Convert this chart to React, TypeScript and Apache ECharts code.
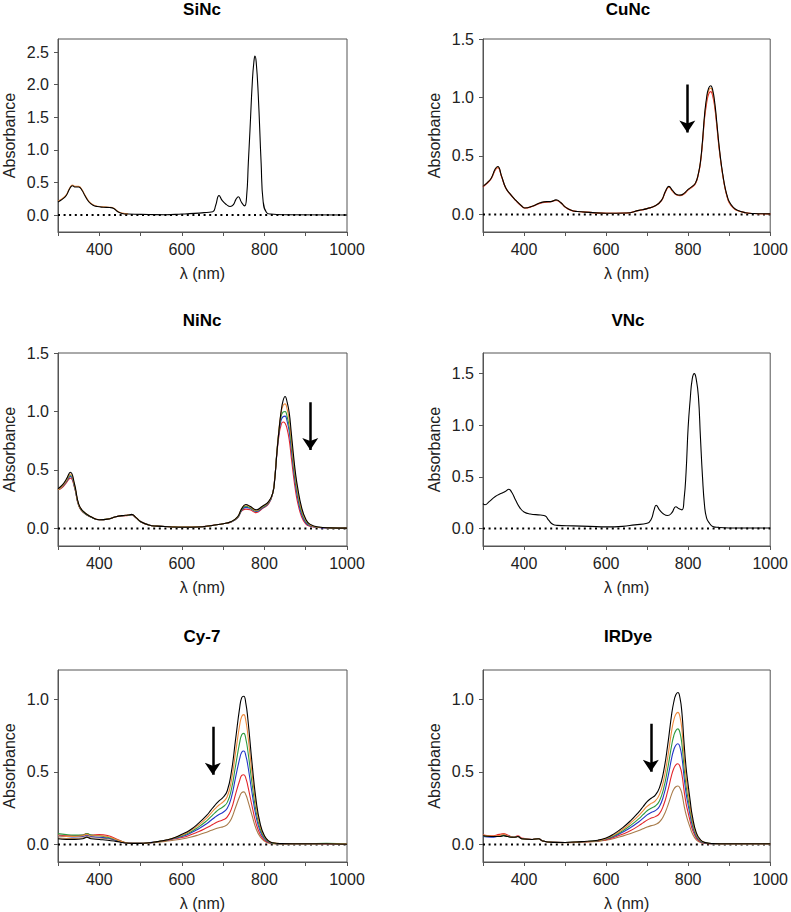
import React, { useEffect, useRef } from "react";
import * as echarts from "echarts";

const FONT = 'Arial, "Liberation Sans", Helvetica, sans-serif';

// ---------- X axis ----------
const xMin = 300;
const xMax = 1000;
const xStep = 100;

// ---------- SiNc ----------
const wlSi = [300,310,320,328,335,342,350,358,365,375,385,395,410,425,435,445,455,470,520,560,600,630,660,675,682,690,698,708,717,725,731,737,744,752,757,761,765,771,775,777,780,785,792,797,805,815,850,1000];
const siBlack = [0.2,0.24,0.3,0.4,0.45,0.43,0.43,0.38,0.3,0.2,0.15,0.13,0.12,0.115,0.1,0.05,0.025,0.015,0.008,0.005,0.015,0.025,0.04,0.05,0.15,0.3,0.22,0.16,0.13,0.16,0.24,0.28,0.2,0.14,0.3,0.8,1.3,2.08,2.38,2.44,2.35,1.85,0.8,0.2,0.04,0.015,0.005,0];
const wlSiUv = [300,310,320,328,335,342,350,358,365,375,385,395,410,425,435,445,455,470];
const siOrange = [0.21,0.25,0.31,0.41,0.46,0.44,0.44,0.39,0.31,0.21,0.16,0.135,0.125,0.12,0.105,0.055,0.03,0.018];
const siTicks = [0, 0.5, 1.0, 1.5, 2.0, 2.5];

// ---------- CuNc ----------
const wlCu = [300,310,320,330,336,345,355,365,380,395,402,420,440,455,465,478,490,500,515,530,560,600,650,680,700,720,735,745,753,762,772,780,790,800,810,818,825,830,835,840,845,850,855,860,865,870,875,880,885,890,895,900,910,920,940,960,1000];
const cuBlack = [0.24,0.27,0.31,0.39,0.41,0.33,0.23,0.18,0.12,0.07,0.055,0.07,0.1,0.11,0.11,0.125,0.1,0.065,0.035,0.025,0.018,0.01,0.012,0.035,0.05,0.075,0.12,0.2,0.24,0.205,0.17,0.165,0.18,0.215,0.24,0.27,0.35,0.45,0.63,0.85,1.0,1.08,1.1,1.06,0.95,0.78,0.6,0.45,0.33,0.23,0.16,0.11,0.06,0.035,0.015,0.008,0.005];
const cuOrange = [0.24,0.27,0.31,0.385,0.405,0.33,0.23,0.18,0.12,0.07,0.055,0.07,0.1,0.108,0.11,0.122,0.1,0.065,0.035,0.025,0.018,0.01,0.012,0.035,0.05,0.075,0.12,0.2,0.235,0.2,0.168,0.163,0.178,0.212,0.238,0.268,0.35,0.45,0.62,0.84,0.98,1.06,1.08,1.04,0.93,0.77,0.59,0.44,0.32,0.225,0.155,0.105,0.058,0.034,0.015,0.008,0.005];
const cuRed = [0.235,0.265,0.305,0.38,0.4,0.325,0.228,0.178,0.118,0.068,0.055,0.068,0.097,0.105,0.108,0.12,0.098,0.064,0.035,0.025,0.018,0.01,0.012,0.034,0.05,0.074,0.118,0.195,0.232,0.198,0.166,0.16,0.175,0.21,0.235,0.265,0.345,0.44,0.61,0.82,0.95,1.03,1.05,1.01,0.91,0.75,0.58,0.44,0.32,0.22,0.15,0.1,0.055,0.033,0.015,0.008,0.005];
const cuTicks = [0, 0.5, 1.0, 1.5];

// ---------- NiNc ----------
const wlNi = [300,310,320,330,340,350,360,380,400,420,440,455,470,478,490,500,520,540,570,600,650,680,700,720,735,745,755,765,780,795,810,820,825,830,835,840,845,850,855,860,865,870,875,880,890,900,910,930,960,1000];
const niBlack = [0.34,0.37,0.42,0.48,0.38,0.21,0.15,0.1,0.075,0.08,0.1,0.11,0.115,0.12,0.09,0.06,0.03,0.02,0.015,0.01,0.015,0.03,0.04,0.06,0.1,0.17,0.205,0.19,0.16,0.19,0.23,0.3,0.42,0.64,0.83,0.99,1.09,1.128,1.08,0.99,0.82,0.64,0.48,0.36,0.18,0.08,0.037,0.012,0.005,0.003];
const niOrange = [0.33,0.36,0.41,0.465,0.37,0.205,0.15,0.1,0.075,0.08,0.1,0.11,0.115,0.118,0.09,0.06,0.03,0.02,0.015,0.012,0.015,0.03,0.04,0.06,0.1,0.17,0.2,0.185,0.155,0.185,0.225,0.3,0.43,0.65,0.84,0.98,1.05,1.065,1.02,0.93,0.77,0.59,0.45,0.33,0.16,0.07,0.032,0.01,0.005,0.003];
const niGreen = [0.33,0.36,0.405,0.455,0.36,0.2,0.145,0.098,0.074,0.08,0.1,0.108,0.113,0.117,0.088,0.058,0.03,0.02,0.015,0.012,0.015,0.03,0.04,0.058,0.095,0.16,0.19,0.178,0.15,0.18,0.22,0.3,0.43,0.65,0.83,0.95,0.995,1.0,0.955,0.87,0.72,0.55,0.41,0.3,0.14,0.06,0.028,0.01,0.005,0.003];
const niBlue = [0.33,0.355,0.4,0.445,0.355,0.2,0.145,0.098,0.074,0.079,0.1,0.108,0.112,0.116,0.088,0.058,0.03,0.02,0.015,0.012,0.015,0.03,0.04,0.057,0.092,0.155,0.18,0.172,0.145,0.175,0.215,0.3,0.43,0.64,0.81,0.92,0.955,0.96,0.915,0.83,0.68,0.52,0.38,0.27,0.12,0.05,0.024,0.009,0.004,0.003];
const niRed = [0.33,0.35,0.39,0.43,0.35,0.195,0.14,0.097,0.074,0.079,0.1,0.107,0.112,0.115,0.087,0.058,0.03,0.02,0.016,0.013,0.016,0.03,0.04,0.056,0.09,0.15,0.165,0.16,0.135,0.17,0.21,0.3,0.43,0.63,0.79,0.88,0.91,0.9,0.85,0.76,0.61,0.46,0.33,0.23,0.1,0.04,0.02,0.008,0.004,0.003];
const niTicks = [0, 0.5, 1.0, 1.5];

// ---------- VNc ----------
const wlV = [300,305,315,330,345,355,363,370,380,390,400,415,440,452,460,470,480,520,560,600,640,670,700,710,717,722,730,740,750,760,770,778,785,790,795,800,805,810,815,820,825,830,835,840,845,852,860,875,900,1000];
const vBlack = [0.24,0.23,0.26,0.31,0.34,0.36,0.38,0.35,0.27,0.2,0.16,0.14,0.13,0.12,0.08,0.04,0.03,0.025,0.02,0.015,0.02,0.035,0.05,0.09,0.18,0.225,0.18,0.14,0.125,0.15,0.21,0.19,0.18,0.28,0.55,0.98,1.25,1.45,1.5,1.44,1.28,0.88,0.5,0.22,0.1,0.05,0.02,0.01,0.005,0.004];
const vTicks = [0, 0.5, 1.0, 1.5];

// ---------- Cy-7 ----------
const wlCy = [300,320,340,360,370,380,400,420,440,460,480,500,520,540,560,580,600,620,640,660,670,680,690,700,710,720,730,740,745,750,755,760,770,780,790,800,810,820,840,870,900,950,1000];
const cyBlack = [0.04,0.035,0.035,0.04,0.05,0.04,0.035,0.03,0.022,0.012,0.008,0.008,0.012,0.02,0.03,0.045,0.07,0.1,0.145,0.2,0.235,0.27,0.3,0.325,0.37,0.5,0.72,0.94,1.01,1.02,0.97,0.86,0.56,0.3,0.14,0.06,0.025,0.012,0.006,0.005,0.005,0.005,0.002];
const cyOrange = [0.06,0.055,0.055,0.06,0.07,0.06,0.06,0.055,0.035,0.015,0.008,0.008,0.012,0.02,0.03,0.045,0.065,0.093,0.133,0.182,0.213,0.245,0.272,0.293,0.33,0.44,0.63,0.82,0.88,0.893,0.85,0.75,0.49,0.265,0.125,0.055,0.024,0.012,0.006,0.005,0.005,0.005,0.003];
const cyGreen = [0.075,0.068,0.065,0.065,0.075,0.065,0.06,0.05,0.035,0.015,0.008,0.008,0.012,0.02,0.03,0.043,0.06,0.085,0.12,0.163,0.19,0.218,0.242,0.26,0.29,0.38,0.54,0.7,0.755,0.764,0.725,0.64,0.42,0.225,0.107,0.047,0.02,0.01,0.005,0.005,0.005,0.008,0.004];
const cyBlue = [0.06,0.055,0.052,0.055,0.065,0.055,0.05,0.045,0.03,0.013,0.008,0.008,0.012,0.02,0.029,0.041,0.055,0.077,0.107,0.143,0.165,0.188,0.207,0.222,0.25,0.325,0.46,0.59,0.635,0.643,0.61,0.54,0.355,0.19,0.09,0.04,0.018,0.009,0.005,0.005,0.005,0.005,0.003];
const cyRed = [0.065,0.06,0.06,0.065,0.075,0.065,0.068,0.062,0.04,0.016,0.008,0.008,0.012,0.019,0.028,0.038,0.048,0.065,0.088,0.115,0.13,0.147,0.16,0.17,0.19,0.245,0.345,0.44,0.475,0.48,0.455,0.4,0.265,0.142,0.068,0.03,0.014,0.008,0.005,0.005,0.005,0.005,0.003];
const cyBrown = [0.045,0.042,0.042,0.045,0.055,0.045,0.045,0.04,0.03,0.012,0.007,0.007,0.01,0.016,0.022,0.03,0.038,0.05,0.066,0.085,0.096,0.107,0.116,0.123,0.137,0.178,0.255,0.33,0.357,0.362,0.342,0.3,0.2,0.107,0.052,0.024,0.011,0.006,0.004,0.004,0.004,0.004,0.002];
const cyTicks = [0, 0.5, 1.0];

// ---------- IRDye ----------
const wlIr = [300,320,340,350,360,375,385,395,420,435,445,470,500,540,580,600,620,640,660,680,690,700,710,720,730,740,750,760,765,770,775,780,785,790,795,800,805,810,820,830,840,860,900,950,1000];
const irBlack = [0.06,0.055,0.055,0.06,0.055,0.05,0.055,0.04,0.035,0.04,0.025,0.015,0.014,0.02,0.03,0.045,0.075,0.115,0.165,0.225,0.26,0.295,0.318,0.34,0.39,0.5,0.68,0.9,0.98,1.03,1.045,1.01,0.9,0.7,0.53,0.41,0.3,0.2,0.08,0.033,0.015,0.007,0.005,0.005,0.005];
const irOrange = [0.065,0.058,0.062,0.072,0.06,0.05,0.055,0.04,0.035,0.04,0.025,0.015,0.014,0.019,0.028,0.042,0.068,0.103,0.148,0.2,0.232,0.262,0.283,0.3,0.343,0.438,0.595,0.785,0.855,0.895,0.909,0.88,0.785,0.61,0.462,0.357,0.262,0.175,0.07,0.03,0.014,0.007,0.005,0.005,0.005];
const irGreen = [0.06,0.055,0.055,0.062,0.055,0.05,0.055,0.04,0.035,0.04,0.025,0.015,0.014,0.019,0.027,0.04,0.062,0.093,0.132,0.178,0.205,0.232,0.25,0.265,0.3,0.383,0.52,0.685,0.748,0.783,0.795,0.77,0.685,0.533,0.404,0.312,0.229,0.153,0.062,0.026,0.012,0.006,0.005,0.005,0.006];
const irBlue = [0.055,0.05,0.06,0.066,0.06,0.05,0.055,0.04,0.035,0.04,0.025,0.015,0.014,0.019,0.026,0.038,0.057,0.084,0.117,0.157,0.18,0.204,0.22,0.233,0.262,0.334,0.453,0.597,0.652,0.683,0.693,0.67,0.597,0.465,0.352,0.272,0.2,0.133,0.054,0.023,0.011,0.006,0.005,0.005,0.005];
const irRed = [0.065,0.06,0.07,0.075,0.065,0.05,0.06,0.045,0.035,0.042,0.025,0.015,0.014,0.018,0.024,0.034,0.05,0.071,0.097,0.13,0.149,0.168,0.182,0.192,0.213,0.27,0.365,0.48,0.523,0.548,0.555,0.537,0.478,0.372,0.282,0.218,0.16,0.107,0.044,0.019,0.009,0.005,0.005,0.005,0.005];
const irBrown = [0.06,0.055,0.06,0.065,0.06,0.05,0.055,0.04,0.035,0.04,0.025,0.015,0.013,0.017,0.022,0.03,0.042,0.058,0.076,0.096,0.108,0.12,0.13,0.138,0.155,0.196,0.264,0.348,0.38,0.397,0.402,0.389,0.347,0.27,0.205,0.158,0.116,0.078,0.032,0.014,0.007,0.004,0.004,0.004,0.004];
const irTicks = [0, 0.5, 1.0];

// ---------- Arrows (x, start, tip) ----------
const arrowCu = [798, 1.11, 0.7];
const arrowNi = [911, 1.08, 0.67];
const arrowCy = [675, 0.81, 0.48];
const arrowIr = [709, 0.83, 0.5];

const C = {
  black: "#000000",
  orange: "#EE8A3C",
  green: "#2E9A3E",
  blue: "#2236C8",
  red: "#E2262B",
  brown: "#A87B4A",
};

type Trace = { wl: number[]; y: number[]; color: string };
type Panel = {
  title: string;
  left: number;
  top: number;
  yMin: number;
  yMax: number;
  ticks: number[];
  traces: Trace[];
  arrow: number[] | null;
};

const GW = 290;
const GH = 193;

const panels: Panel[] = [
  {
    title: "SiNc", left: 57, top: 39, yMin: -0.26, yMax: 2.7, ticks: siTicks,
    traces: [
      { wl: wlSiUv, y: siOrange, color: C.orange },
      { wl: wlSi, y: siBlack, color: C.black },
    ],
    arrow: null,
  },
  {
    title: "CuNc", left: 483, top: 39, yMin: -0.15, yMax: 1.5, ticks: cuTicks,
    traces: [
      { wl: wlCu, y: cuRed, color: C.red },
      { wl: wlCu, y: cuOrange, color: C.orange },
      { wl: wlCu, y: cuBlack, color: C.black },
    ],
    arrow: arrowCu,
  },
  {
    title: "NiNc", left: 57, top: 353, yMin: -0.15, yMax: 1.5, ticks: niTicks,
    traces: [
      { wl: wlNi, y: niRed, color: C.red },
      { wl: wlNi, y: niBlue, color: C.blue },
      { wl: wlNi, y: niGreen, color: C.green },
      { wl: wlNi, y: niOrange, color: C.orange },
      { wl: wlNi, y: niBlack, color: C.black },
    ],
    arrow: arrowNi,
  },
  {
    title: "VNc", left: 483, top: 353, yMin: -0.17, yMax: 1.7, ticks: vTicks,
    traces: [{ wl: wlV, y: vBlack, color: C.black }],
    arrow: null,
  },
  {
    title: "Cy-7", left: 57, top: 670, yMin: -0.12, yMax: 1.2, ticks: cyTicks,
    traces: [
      { wl: wlCy, y: cyBrown, color: C.brown },
      { wl: wlCy, y: cyRed, color: C.red },
      { wl: wlCy, y: cyBlue, color: C.blue },
      { wl: wlCy, y: cyGreen, color: C.green },
      { wl: wlCy, y: cyOrange, color: C.orange },
      { wl: wlCy, y: cyBlack, color: C.black },
    ],
    arrow: arrowCy,
  },
  {
    title: "IRDye", left: 483, top: 670, yMin: -0.12, yMax: 1.2, ticks: irTicks,
    traces: [
      { wl: wlIr, y: irBrown, color: C.brown },
      { wl: wlIr, y: irRed, color: C.red },
      { wl: wlIr, y: irBlue, color: C.blue },
      { wl: wlIr, y: irGreen, color: C.green },
      { wl: wlIr, y: irOrange, color: C.orange },
      { wl: wlIr, y: irBlack, color: C.black },
    ],
    arrow: arrowIr,
  },
];

const AXIS_COLOR = "#555555";
const LABEL_COLOR = "#222222";
const FS = 16;

function buildOption() {
  const grid = panels.map((p) => ({
    left: p.left,
    top: p.top,
    width: GW,
    height: GH,
    show: true,
    borderColor: AXIS_COLOR,
    borderWidth: 1,
    backgroundColor: "transparent",
  }));

  const xAxis = panels.map((p, i) => ({
    gridIndex: i,
    type: "value",
    min: xMin,
    max: xMax,
    interval: xStep,
    axisLine: { show: true, onZero: false, lineStyle: { color: AXIS_COLOR, width: 1 } },
    axisTick: { show: true, length: 4, lineStyle: { color: AXIS_COLOR } },
    axisLabel: {
      formatter: (v: number) => (v % 200 === 0 ? String(v) : ""),
      color: LABEL_COLOR,
      fontSize: FS,
      fontFamily: FONT,
      margin: 9,
    },
    splitLine: { show: false },
    name: "λ (nm)",
    nameLocation: "middle",
    nameGap: 33,
    nameTextStyle: { color: LABEL_COLOR, fontSize: FS, fontFamily: FONT },
  }));

  const yAxis = panels.map((p, i) => ({
    gridIndex: i,
    type: "value",
    min: p.yMin,
    max: p.yMax,
    axisLine: { show: true, onZero: false, lineStyle: { color: AXIS_COLOR, width: 1 } },
    axisTick: { show: true, length: 4, customValues: p.ticks, lineStyle: { color: AXIS_COLOR } },
    axisLabel: {
      customValues: p.ticks,
      formatter: (v: number) => v.toFixed(1),
      color: LABEL_COLOR,
      fontSize: FS,
      fontFamily: FONT,
      margin: 9,
    },
    splitLine: { show: false },
    name: "Absorbance",
    nameLocation: "middle",
    nameGap: 41,
    nameTextStyle: { color: LABEL_COLOR, fontSize: FS, fontFamily: FONT },
  }));

  const series: any[] = [];
  panels.forEach((p, i) => {
    series.push({
      type: "line",
      xAxisIndex: i,
      yAxisIndex: i,
      data: [[xMin, 0], [xMax, 0]],
      symbol: "none",
      silent: true,
      lineStyle: { color: "#000", width: 2, type: [2, 3.6] },
      z: 1,
    });
    p.traces.forEach((t) => {
      series.push({
        type: "line",
        xAxisIndex: i,
        yAxisIndex: i,
        data: t.wl.map((w, k) => [w, t.y[k]]),
        symbol: "none",
        smooth: 0.5,
        silent: true,
        lineStyle: { color: t.color, width: 1.1 },
        z: 2,
      });
    });
    if (p.arrow) {
      series.push({
        type: "lines",
        coordinateSystem: "cartesian2d",
        xAxisIndex: i,
        yAxisIndex: i,
        symbol: ["none", "arrow"],
        symbolSize: [9, 12],
        silent: true,
        lineStyle: { color: "#000", width: 2.5, opacity: 1, curveness: 0 },
        data: [{ coords: [[p.arrow[0], p.arrow[1]], [p.arrow[0], p.arrow[2]]] }],
        z: 5,
      });
    }
  });

  const title = panels.map((p) => ({
    text: p.title,
    left: p.left + GW / 2,
    top: p.top - (p.top === 39 ? 38 : p.top === 353 ? 41 : 42),
    textAlign: "center",
    padding: 0,
    textStyle: { fontSize: 17, fontWeight: "bold", fontFamily: FONT, color: "#000" },
  }));

  return {
    animation: false,
    backgroundColor: "#ffffff",
    title,
    grid,
    xAxis,
    yAxis,
    series,
  };
}

export default function App() {
  const ref = useRef<HTMLDivElement | null>(null);
  useEffect(() => {
    if (!ref.current) return;
    const chart = echarts.init(ref.current, undefined, { renderer: "svg" });
    chart.setOption(buildOption() as any);
    return () => {
      chart.dispose();
    };
  }, []);
  return (
    <div
      ref={ref}
      style={{ position: "absolute", left: 0, top: 0, width: 791, height: 912, background: "#fff" }}
    />
  );
}
